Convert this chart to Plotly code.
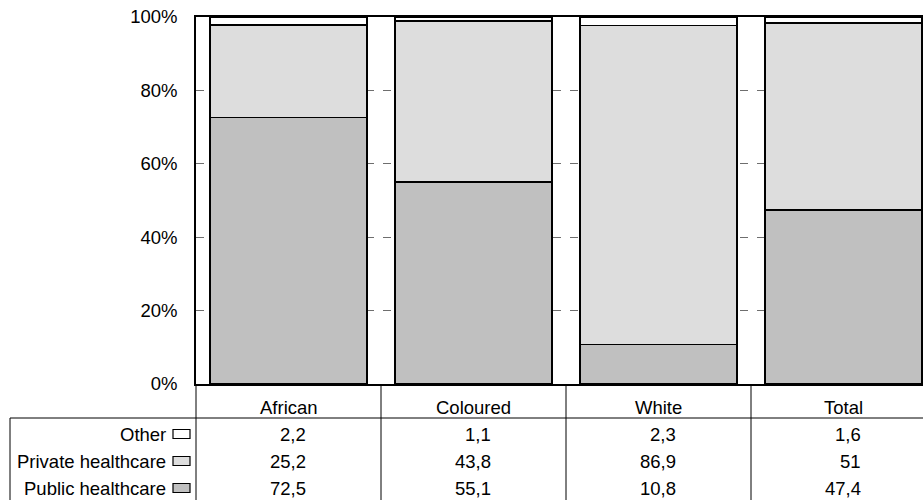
import plotly.graph_objects as go

# Healthcare usage by population group (%)
categories = ["African", "Coloured", "White", "Total"]
series_names = ["Public healthcare", "Private healthcare", "Other"]
public_vals = [72.5, 55.1, 10.8, 47.4]
private_vals = [25.2, 43.8, 86.9, 51]
other_vals = [2.2, 1.1, 2.3, 1.6]
y_ticks = [0, 20, 40, 60, 80, 100]
y_tick_labels = [f"{t}%" for t in y_ticks]

series_vals = [public_vals, private_vals, other_vals]
fills = ["#C0C0C0", "#DDDDDD", "#FFFFFF"]

# page geometry (px)
W, H = 923, 500
PL, PT, PB = 196, 17, 384          # plot left / top / bottom
PW = W - PL
PH = PB - PT
CAT_PX = 185                        # width of one category slot
FONT = dict(family="Liberation Sans, Arial, sans-serif", size=18.5, color="black")


def py(p):
    """pixel row -> paper y"""
    return (PB - p) / PH


def px(p):
    """pixel column -> paper x"""
    return (p - PL) / PW


def fmt(v):
    return f"{v:g}".replace(".", ",")


x_pos = list(range(len(categories)))
x_max = -0.5 + PW / CAT_PX

fig = go.Figure()
for name, vals, col in zip(series_names, series_vals, fills):
    fig.add_trace(go.Bar(
        x=x_pos, y=vals, name=name, width=157 / CAT_PX,
        marker=dict(color=col, line=dict(color="black", width=1.5)),
        showlegend=False,
    ))

shapes = []
annotations = []

# data table: header row and value rows
row_names = ["Other", "Private healthcare", "Public healthcare"]
row_vals = [other_vals, private_vals, public_vals]
row_fill = ["#FFFFFF", "#DDDDDD", "#C0C0C0"]
row_y = [434, 461, 488]

for i, c in enumerate(categories):
    annotations.append(dict(x=i, xref="x", y=py(407), yref="paper", text=c,
                            showarrow=False, font=FONT, xanchor="center", yanchor="middle"))
    for vals, ry in zip(row_vals, row_y):
        annotations.append(dict(x=i, xref="x", xshift=19, y=py(ry), yref="paper",
                                text=fmt(vals[i]), showarrow=False, font=FONT,
                                xanchor="right", yanchor="middle"))

for name, col, ry in zip(row_names, row_fill, row_y):
    annotations.append(dict(x=px(168), xref="paper", y=py(ry), yref="paper", text=name,
                            showarrow=False, font=FONT, xanchor="right", yanchor="middle"))
    shapes.append(dict(type="rect", xref="paper", yref="paper",
                       x0=px(173), x1=px(190), y0=py(ry - 4.5), y1=py(ry + 4.5),
                       fillcolor=col, line=dict(color="black", width=1.2)))

# table rules
shapes.append(dict(type="line", xref="paper", yref="paper", x0=px(10), x1=1,
                   y0=py(418), y1=py(418), line=dict(color="black", width=1)))
shapes.append(dict(type="line", xref="paper", yref="paper", x0=px(10), x1=px(10),
                   y0=py(418), y1=py(H + 2), line=dict(color="black", width=1)))
shapes.append(dict(type="line", xref="paper", yref="paper", x0=0, x1=0,
                   y0=0, y1=py(H + 2), line=dict(color="black", width=1)))
for i in range(len(categories) - 1):
    shapes.append(dict(type="line", xref="x", yref="paper", x0=i + 0.5, x1=i + 0.5,
                       y0=0, y1=py(H + 2), line=dict(color="black", width=1)))

fig.update_layout(
    width=W, height=H,
    margin=dict(l=PL, r=0, t=PT, b=H - PB),
    paper_bgcolor="white", plot_bgcolor="white",
    barmode="stack", barnorm="percent",
    font=FONT,
    shapes=shapes, annotations=annotations,
    xaxis=dict(range=[-0.5, x_max], showticklabels=False, showgrid=False,
               zeroline=False, showline=True, mirror=True,
               linecolor="black", linewidth=1.5, ticks=""),
    yaxis=dict(range=[0, 100], tickmode="array", tickvals=y_ticks, ticktext=y_tick_labels,
               showgrid=True, gridcolor="#6e6e6e", gridwidth=1, griddash="8px,9px",
               zeroline=False, showline=True, linecolor="black", linewidth=1.5,
               ticks="", ticklabelstandoff=13, tickfont=FONT),
)

fig.write_html("out.html")
